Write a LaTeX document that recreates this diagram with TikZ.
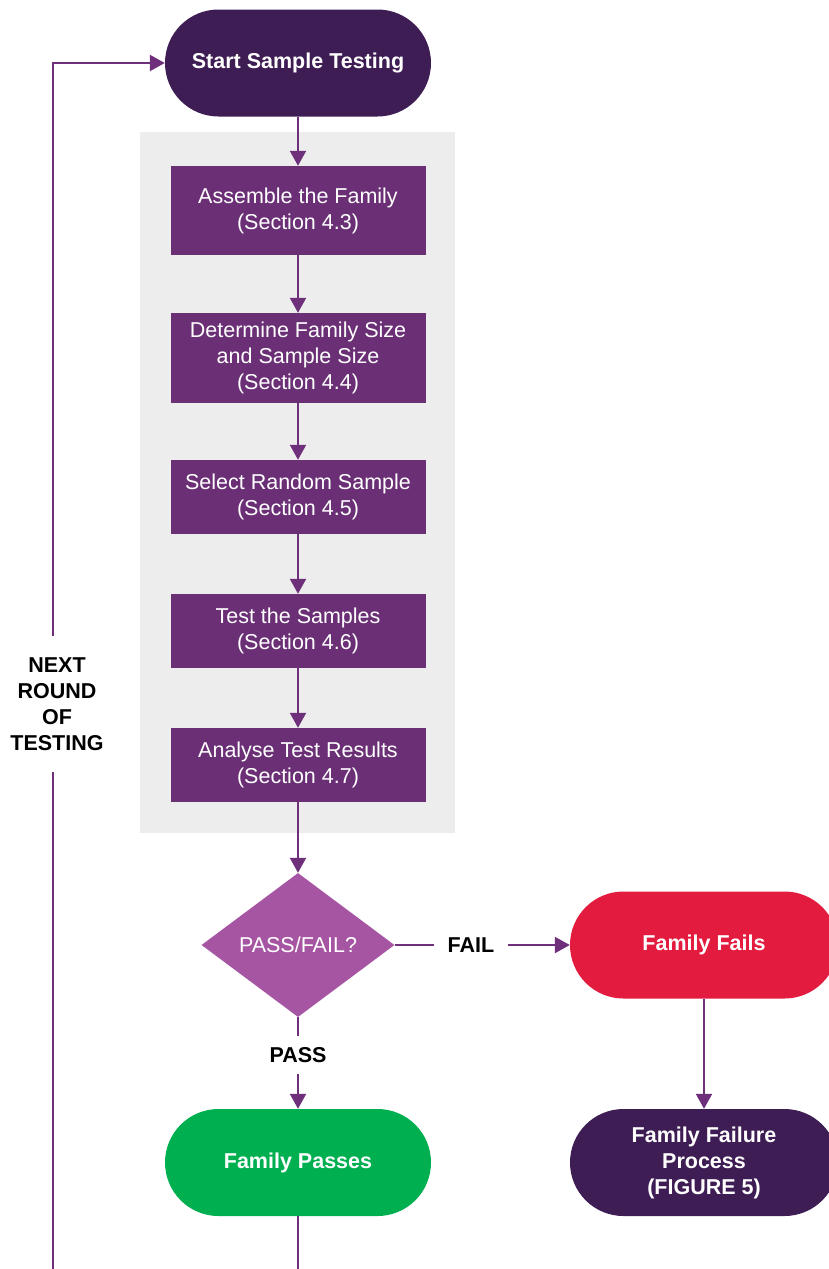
\documentclass[tikz,border=0pt]{standalone}
\usepackage{fontspec}
\setmainfont{Liberation Sans}
\usetikzlibrary{shapes.geometric,arrows.meta}
\definecolor{darkplum}{RGB}{62,28,84}
\definecolor{boxplum}{RGB}{107,47,118}
\definecolor{lineplum}{RGB}{110,48,122}
\definecolor{orchid}{RGB}{166,85,163}
\definecolor{failred}{RGB}{227,28,63}
\definecolor{passgreen}{RGB}{0,175,80}
\definecolor{panelgrey}{RGB}{237,237,237}
\begin{document}
\begin{tikzpicture}[x=1pt,y=-1pt]
\tikzstyle{every node}+=[font=\fontsize{21.5}{26}\selectfont, align=center]
\tikzstyle{terminal}=[rectangle, rounded corners=53.5pt, minimum width=266pt, minimum height=107pt, text=white, font=\fontsize{21.5}{26}\selectfont\bfseries]
\tikzstyle{stepbox}=[rectangle, fill=boxplum, minimum width=255pt, text=white]
\tikzstyle{decision}=[diamond, fill=orchid, minimum width=193pt, minimum height=144pt, inner sep=0pt, text=white]
\tikzstyle{flowlabel}=[font=\fontsize{21.5}{26}\selectfont\bfseries, text=black]
\tikzstyle{flow}=[draw=lineplum, line width=2.2pt]
\tikzstyle{flowarrow}=[flow, -{Triangle[length=15pt,width=16pt]}]
\clip (0,0) rectangle (829,1269);
\fill [panelgrey] (140,132) rectangle (455,833);
\node [terminal, fill=darkplum] (start) at (298,63) {Start Sample Testing};
\node [stepbox, minimum height=89pt] (assemble) at (298,210.5) {Assemble the Family\\(Section 4.3)};
\node [stepbox, minimum height=90pt] (sizes) at (298,358) {Determine Family Size\\and Sample Size\\(Section 4.4)};
\node [stepbox, minimum height=74pt] (select) at (298,497) {Select Random Sample\\(Section 4.5)};
\node [stepbox, minimum height=74pt] (testing) at (298,631) {Test the Samples\\(Section 4.6)};
\node [stepbox, minimum height=74pt] (analyse) at (298,765) {Analyse Test Results\\(Section 4.7)};
\node [decision] (passfail) at (298,945) {PASS/FAIL?};
\node [flowlabel, inner xsep=14pt] (fail) at (471,945) {FAIL};
\node [flowlabel, inner ysep=11pt] (pass) at (298,1055) {PASS};
\node [terminal, fill=failred, minimum width=268pt] (fails) at (704,945) {Family Fails};
\node [terminal, fill=darkplum, minimum width=268pt] (failure) at (704,1162.5) {Family Failure\\Process\\(FIGURE 5)};
\node [terminal, fill=passgreen] (passes) at (298,1162.5) {Family Passes};
\node [flowlabel, inner ysep=21pt] (nextround) at (57,704) {NEXT\\ROUND\\OF\\TESTING};
\coordinate (loopbottom) at (298,1300);
\coordinate (loopcorner) at (53,1300);
\draw [flowarrow] (start) -- (assemble);
\draw [flowarrow] (assemble) -- (sizes);
\draw [flowarrow] (sizes) -- (select);
\draw [flowarrow] (select) -- (testing);
\draw [flowarrow] (testing) -- (analyse);
\draw [flowarrow] (analyse) -- (passfail);
\draw [flow] (passfail.east) -- (fail.west);
\draw [flowarrow] (fail.east) -- (fails.west);
\draw [flowarrow] (fails) -- (failure);
\draw [flow] (passfail.south) -- (pass.north);
\draw [flowarrow] (pass.south) -- (passes.north);
\draw [flow] (passes.south) -- (loopbottom) -- (loopcorner) -- (loopcorner |- nextround.south);
\draw [flowarrow] (loopcorner |- nextround.north) |- (start.west);
\end{tikzpicture}
\end{document}
